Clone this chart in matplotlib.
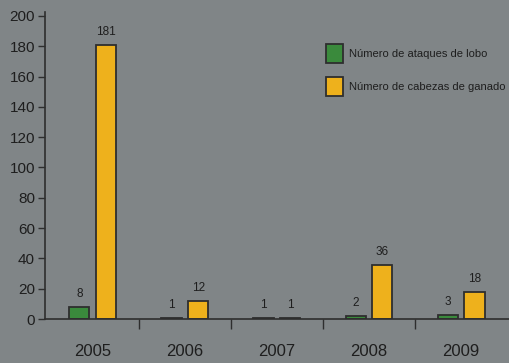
import matplotlib
matplotlib.use("Agg")
import matplotlib.pyplot as plt
from matplotlib.patches import Patch

years = ["2005", "2006", "2007", "2008", "2009"]
ataques = [8, 1, 1, 2, 3]
cabezas = [181, 12, 1, 36, 18]
y_ticks = [0, 20, 40, 60, 80, 100, 120, 140, 160, 180, 200]
legend_labels = ["Número de ataques de lobo", "Número de cabezas de ganado"]

BG = "#808587"
GREEN = "#3a8a3c"
YELLOW = "#eeb11c"
EDGE = "#2e2e2e"
TXT = "#1e1e1e"

plt.rcParams["font.family"] = ["Liberation Sans", "DejaVu Sans"]

fig = plt.figure(figsize=(5.09, 3.63), dpi=100, facecolor=BG)
ax = fig.add_axes([0.088, 0.121, 0.912, 0.846])
ax.set_facecolor(BG)

x = list(range(len(years)))
w = 0.22
off = 0.145
bars1 = ax.bar([i - off for i in x], ataques, width=w, color=GREEN, edgecolor=EDGE, linewidth=1.3)
bars2 = ax.bar([i + off for i in x], cabezas, width=w, color=YELLOW, edgecolor=EDGE, linewidth=1.3)

# value labels above each bar
for bars, vals in ((bars1, ataques), (bars2, cabezas)):
    for b, v in zip(bars, vals):
        ax.annotate(str(v), (b.get_x() + b.get_width() / 2, v), xytext=(0, 5),
                    textcoords="offset points", ha="center", va="bottom",
                    fontsize=8.5, color=TXT)

ax.set_xlim(-0.52, 4.52)
ax.set_ylim(0, 202.6)

ax.set_yticks(y_ticks)
ax.tick_params(axis="y", direction="out", length=5, width=1, color=EDGE, labelsize=11, labelcolor=TXT, pad=2)

ax.set_xticks(x)
ax.set_xticklabels(years)
ax.tick_params(axis="x", which="major", length=0, labelsize=12, labelcolor=TXT, pad=18)
ax.set_xticks([i + 0.5 for i in x[:-1]], minor=True)
ax.tick_params(axis="x", which="minor", direction="out", length=7, width=1, color=EDGE)

for side in ("top", "right"):
    ax.spines[side].set_visible(False)
for side in ("left", "bottom"):
    ax.spines[side].set_color(EDGE)
    ax.spines[side].set_linewidth(1.2)

handles = [Patch(facecolor=GREEN, edgecolor=EDGE, linewidth=1.3),
           Patch(facecolor=YELLOW, edgecolor=EDGE, linewidth=1.3)]
ax.legend(handles, legend_labels, loc="upper left", bbox_to_anchor=(0.606, 0.895),
          frameon=False, fontsize=8, labelcolor=TXT, handlelength=1.5, handleheight=2.25,
          labelspacing=1.25, handletextpad=0.6, borderpad=0, borderaxespad=0)

fig.savefig("out.png", dpi=100, facecolor=BG)
